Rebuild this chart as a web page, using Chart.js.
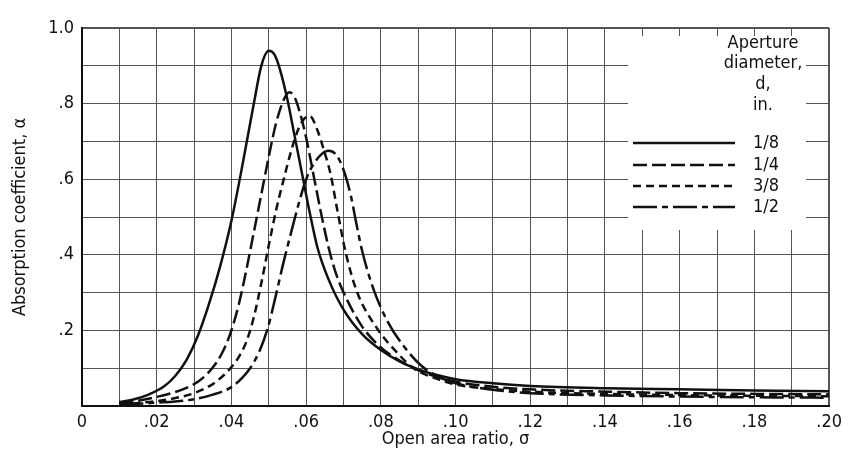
<!DOCTYPE html>
<html>
<head>
<meta charset="utf-8">
<script src="https://cdn.jsdelivr.net/npm/chart.js@4/dist/chart.umd.min.js"></script>
<style>
  body { margin: 0; background: #fff; }
  #wrap { width: 848px; height: 450px; }
</style>
</head>
<body>
<div id="wrap"><canvas id="absChart" width="848" height="450"></canvas></div>
<script>
// aperture diameters, in.
const seriesNames = ['1/8', '1/4', '3/8', '1/2'];

// open area ratio / absorption coefficient
const sigma18 = [0.010, 0.014, 0.018, 0.022, 0.025, 0.028, 0.031, 0.034, 0.037, 0.040, 0.043, 0.046, 0.048, 0.050, 0.0515, 0.053, 0.055, 0.057, 0.059, 0.061, 0.063, 0.066, 0.070, 0.075, 0.080, 0.085, 0.090, 0.095, 0.100, 0.110, 0.120, 0.140, 0.160, 0.180, 0.200];
const alpha18 = [0.010, 0.018, 0.031, 0.052, 0.080, 0.122, 0.185, 0.270, 0.370, 0.490, 0.640, 0.800, 0.900, 0.940, 0.930, 0.890, 0.810, 0.710, 0.610, 0.510, 0.420, 0.335, 0.255, 0.190, 0.148, 0.118, 0.097, 0.082, 0.071, 0.060, 0.053, 0.047, 0.044, 0.041, 0.039];

const sigma14 = [0.010, 0.015, 0.020, 0.025, 0.030, 0.033, 0.036, 0.038, 0.040, 0.042, 0.044, 0.046, 0.048, 0.050, 0.052, 0.054, 0.0555, 0.057, 0.0585, 0.060, 0.062, 0.064, 0.066, 0.068, 0.071, 0.075, 0.080, 0.085, 0.090, 0.095, 0.100, 0.110, 0.120, 0.140, 0.160, 0.180, 0.200];
const alpha14 = [0.008, 0.014, 0.024, 0.037, 0.058, 0.080, 0.115, 0.150, 0.200, 0.270, 0.360, 0.460, 0.560, 0.660, 0.750, 0.810, 0.830, 0.815, 0.770, 0.710, 0.610, 0.510, 0.420, 0.350, 0.280, 0.210, 0.155, 0.120, 0.095, 0.077, 0.064, 0.051, 0.044, 0.038, 0.034, 0.032, 0.031];

const sigma38 = [0.010, 0.015, 0.020, 0.025, 0.030, 0.035, 0.038, 0.040, 0.042, 0.044, 0.046, 0.048, 0.050, 0.052, 0.054, 0.056, 0.058, 0.0595, 0.061, 0.063, 0.0645, 0.0665, 0.0685, 0.0705, 0.0735, 0.079, 0.084, 0.0887, 0.095, 0.100, 0.110, 0.120, 0.140, 0.160, 0.180, 0.200];
const alpha38 = [0.005, 0.008, 0.013, 0.021, 0.034, 0.058, 0.082, 0.103, 0.130, 0.170, 0.235, 0.325, 0.425, 0.520, 0.600, 0.675, 0.735, 0.760, 0.767, 0.730, 0.685, 0.615, 0.510, 0.410, 0.305, 0.205, 0.145, 0.100, 0.072, 0.057, 0.045, 0.038, 0.032, 0.029, 0.027, 0.026];

const sigma12 = [0.010, 0.015, 0.020, 0.025, 0.030, 0.035, 0.040, 0.043, 0.045, 0.0475, 0.0497, 0.0516, 0.0537, 0.056, 0.058, 0.060, 0.062, 0.064, 0.066, 0.068, 0.070, 0.072, 0.0733, 0.075, 0.078, 0.082, 0.086, 0.091, 0.096, 0.100, 0.110, 0.120, 0.140, 0.160, 0.180, 0.200];
const alpha12 = [0.004, 0.006, 0.009, 0.012, 0.018, 0.030, 0.050, 0.076, 0.100, 0.145, 0.205, 0.280, 0.370, 0.460, 0.535, 0.600, 0.640, 0.665, 0.675, 0.665, 0.625, 0.555, 0.490, 0.410, 0.310, 0.220, 0.160, 0.105, 0.075, 0.060, 0.043, 0.034, 0.028, 0.025, 0.023, 0.022];

const xTickLabels = ['0', '.02', '.04', '.06', '.08', '.10', '.12', '.14', '.16', '.18', '.20'];
const yTickLabels = ['', '.2', '.4', '.6', '.8', '1.0'];
const legendTitle = ['Aperture', 'diameter,', 'd,', 'in.'];

const FONT = '"DejaVu Sans Condensed", "Liberation Sans Narrow", sans-serif';

const toPoints = (xs, ys) => xs.map((x, i) => ({ x: x, y: ys[i] }));

const dashes = [[], [14, 5], [8, 5], [24, 5, 6, 5]];
const curves = [
  toPoints(sigma18, alpha18),
  toPoints(sigma14, alpha14),
  toPoints(sigma38, alpha38),
  toPoints(sigma12, alpha12)
];

// legend in the upper right, drawn on a white patch over the grid
const legendBox = {
  id: 'legendBox',
  beforeDatasetsDraw(chart) {
    const { ctx, chartArea } = chart;
    ctx.save();
    ctx.fillStyle = '#fff';
    ctx.fillRect(628, chartArea.top + 8, 178, 222 - chartArea.top);
    ctx.restore();
  },
  afterDatasetsDraw(chart) {
    const { ctx } = chart;
    ctx.save();
    ctx.fillStyle = '#111';
    ctx.font = '18px ' + FONT;
    ctx.textAlign = 'center';
    ctx.textBaseline = 'middle';
    const titleY = [43, 63, 84, 105];
    legendTitle.forEach((t, i) => ctx.fillText(t, 763, titleY[i]));
    const rowY = [143, 165, 186, 207];
    chart.data.datasets.forEach((ds, i) => {
      ctx.strokeStyle = '#111';
      ctx.lineWidth = 2.5;
      ctx.setLineDash(ds.borderDash);
      ctx.beginPath();
      ctx.moveTo(633, rowY[i]);
      ctx.lineTo(735, rowY[i]);
      ctx.stroke();
      ctx.setLineDash([]);
      ctx.fillText(ds.label, 766, rowY[i]);
    });
    ctx.restore();
  }
};

const ctx = document.getElementById('absChart').getContext('2d');
const absChart = new Chart(ctx, {
  type: 'line',
  data: {
    datasets: curves.map((pts, i) => ({
      label: seriesNames[i],
      data: pts,
      borderColor: '#111',
      borderWidth: 2.5,
      borderDash: dashes[i],
      pointRadius: 0,
      fill: false,
      cubicInterpolationMode: 'monotone'
    }))
  },
  options: {
    responsive: false,
    animation: false,
    layout: { padding: { top: 28, right: 10, bottom: 0, left: 0 } },
    plugins: {
      legend: { display: false },
      tooltip: { enabled: false }
    },
    scales: {
      x: {
        type: 'linear',
        min: 0,
        max: 0.2,
        afterFit(scale) { scale.height = 44; },
        ticks: {
          stepSize: 0.01,
          autoSkip: false,
          maxRotation: 0,
          padding: 6,
          color: '#111',
          font: { family: FONT, size: 18 },
          callback: (v, i) => (i % 2 === 0 ? xTickLabels[i / 2] : '')
        },
        grid: {
          color: '#555',
          lineWidth: c => (c.tick && Math.abs(c.tick.value - 0.2) < 1e-6 ? 2 : 1),
          drawTicks: false
        },
        border: { color: '#111', width: 2 },
        title: {
          display: true,
          text: 'Open area ratio, σ',
          color: '#111',
          font: { family: FONT, size: 18 },
          padding: { top: 2, bottom: 0 }
        }
      },
      y: {
        min: 0,
        max: 1,
        afterFit(scale) { scale.width = 82; },
        ticks: {
          stepSize: 0.1,
          autoSkip: false,
          padding: 8,
          color: '#111',
          font: { family: FONT, size: 18 },
          callback: (v, i) => (i % 2 === 0 ? yTickLabels[i / 2] : '')
        },
        grid: {
          color: '#555',
          lineWidth: c => (c.tick && Math.abs(c.tick.value - 1) < 1e-6 ? 2 : 1),
          drawTicks: false
        },
        border: { color: '#111', width: 2 },
        title: {
          display: true,
          text: 'Absorption coefficient, α',
          color: '#111',
          font: { family: FONT, size: 18 },
          padding: { top: 10, bottom: 0 }
        }
      }
    }
  },
  plugins: [legendBox]
});
</script>
</body>
</html>
